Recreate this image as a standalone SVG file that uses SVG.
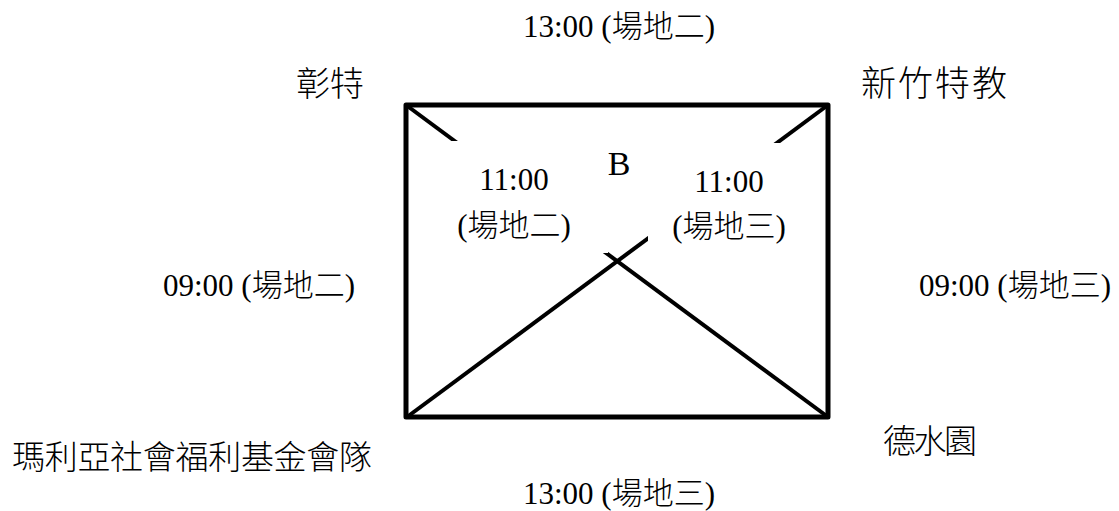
<svg xmlns="http://www.w3.org/2000/svg" width="1119" height="511" viewBox="0 0 1119 511">
  <style>
    .t { font-family: "Liberation Serif", "Noto Sans CJK TC", serif; font-size: 31px; font-weight: 300; fill: #000; }
    .team { font-family: "Noto Sans CJK TC", "Liberation Serif", serif; font-size: 34px; font-weight: 300; fill: #000; }
    .mid { text-anchor: middle; }
    .edge { stroke: #000; fill: none; }
  </style>
  <defs>
    <clipPath id="gaps">
      <path clip-rule="evenodd" d="M0 0H1119V511H0Z M440 141H608V253H440Z M648 143H805V262H648Z"/>
    </clipPath>
  </defs>
  <rect width="1119" height="511" fill="#fff"/>

  <g id="connectors">
    <path class="edge" stroke-width="5" stroke-linejoin="round" d="M406 105H828V417H406Z"/>
    <g clip-path="url(#gaps)">
      <line class="edge" stroke-width="4" x1="406" y1="105" x2="828" y2="417"/>
      <line class="edge" stroke-width="4" x1="828" y1="105" x2="407" y2="417"/>
    </g>
  </g>

  <g id="node-changte"><text class="team" x="296" y="96" textLength="68" lengthAdjust="spacing">彰特</text></g>
  <g id="node-hsinchu"><text class="team" x="861" y="96" textLength="146" lengthAdjust="spacing" style="font-size:35px">新竹特教</text></g>
  <g id="node-maria"><text class="team" x="12" y="469" textLength="360" lengthAdjust="spacing" style="font-size:33px">瑪利亞社會福利基金會隊</text></g>
  <g id="node-deshuiyuan"><text class="team" x="883" y="453" textLength="94" lengthAdjust="spacing" style="font-size:33px">德水園</text></g>

  <g id="labels">
    <text class="t mid" x="619" y="37">13:00 (場地二)</text>
    <text class="t mid" x="619" y="504">13:00 (場地三)</text>
    <text class="t mid" x="259" y="296">09:00 (場地二)</text>
    <text class="t mid" x="1015" y="296">09:00 (場地三)</text>
    <text class="t mid" x="619" y="175" style="font-size:34px">B</text>
    <text class="t mid" x="514" y="190">11:00</text>
    <text class="t mid" x="514" y="236">(場地二)</text>
    <text class="t mid" x="729" y="192">11:00</text>
    <text class="t mid" x="729" y="237">(場地三)</text>
  </g>
</svg>
